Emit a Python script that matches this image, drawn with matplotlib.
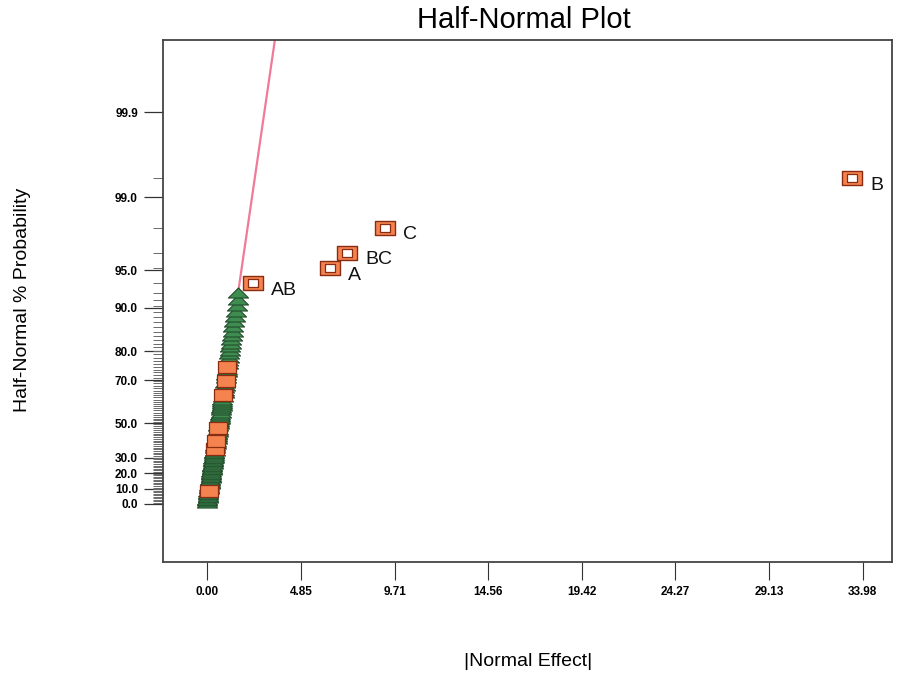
from statistics import NormalDist

import numpy as np
import matplotlib

matplotlib.use("Agg")
import matplotlib.pyplot as plt
from matplotlib.path import Path

plt.rcParams["font.family"] = ["Liberation Sans", "DejaVu Sans"]

# |effect| of the small (unlabelled) terms, sorted by size
cluster_effects = [
    0.00, 0.00, 0.00, 0.01, 0.02, 0.03, 0.04, 0.05, 0.06, 0.07,
    0.08, 0.10, 0.11, 0.12, 0.13, 0.14, 0.16, 0.17, 0.18, 0.19,
    0.21, 0.22, 0.23, 0.24, 0.26, 0.27, 0.28, 0.29, 0.31, 0.32,
    0.33, 0.35, 0.36, 0.37, 0.39, 0.40, 0.41, 0.43, 0.44, 0.45,
    0.47, 0.48, 0.50, 0.51, 0.53, 0.54, 0.56, 0.57, 0.59, 0.60,
    0.62, 0.63, 0.65, 0.67, 0.68, 0.70, 0.72, 0.73, 0.75, 0.76,
    0.78, 0.80, 0.82, 0.84, 0.86, 0.88, 0.90, 0.92, 0.94, 0.96,
    0.98, 1.00, 1.02, 1.04, 1.06, 1.08, 1.11, 1.13, 1.16, 1.18,
    1.21, 1.24, 1.27, 1.30, 1.34, 1.38, 1.42, 1.46, 1.51, 1.56, 1.61,
]
# ranks (1-based) of the small terms drawn as orange squares
cluster_square_ranks = [9, 35, 40, 47, 63, 69, 74]
n_terms = 98

# selected model terms
term_names = ["AB", "A", "BC", "C", "B"]
term_effects = [2.36, 6.35, 7.24, 9.21, 33.43]
term_probs = [93.6, 95.2, 96.5, 97.95, 99.38]

ytick_probs = [0.0, 10.0, 20.0, 30.0, 50.0, 70.0, 80.0, 90.0, 95.0, 99.0, 99.9]
xtick_step = 33.98 / 7
xtick_labels = ["0.00", "4.85", "9.71", "14.56", "19.42", "24.27", "29.13", "33.98"]

nd = NormalDist()


def hn(pcts):
    # half-normal probability scale: percent -> normal quantile
    return np.array([nd.inv_cdf(0.5 + float(p) / 200.0) for p in pcts])


ranks = np.arange(1, len(cluster_effects) + 1)
cluster_probs = (ranks - 0.5) / n_terms * 100
cluster_z = hn(cluster_probs)
cluster_x = np.array(cluster_effects)
is_square = np.isin(ranks, cluster_square_ranks)

term_z = hn(term_probs)

tri = Path([(-1, -0.45), (1, -0.45), (0, 0.55), (-1, -0.45)],
           [Path.MOVETO, Path.LINETO, Path.LINETO, Path.CLOSEPOLY])
rect = Path([(-1, -0.72), (1, -0.72), (1, 0.72), (-1, 0.72), (-1, -0.72)],
            [Path.MOVETO, Path.LINETO, Path.LINETO, Path.LINETO, Path.CLOSEPOLY])

fig = plt.figure(figsize=(9, 6.75), dpi=100)
ax = fig.add_axes([0.181, 0.167, 0.81, 0.774])

green = "#3f8c50"
orange = "#f5834f"
edge = "#8a2c12"

# reference line through the origin fitted to the error terms
gx = cluster_x[~is_square]
gz = cluster_z[~is_square]
slope = np.sum(gx * gz) / np.sum(gx * gx)
x0 = gx.max()
xl = np.array([x0, 5.0])
ax.plot(xl, slope * xl, color="#f07a98", lw=1.6, zorder=2)

ax.scatter(gx, gz, marker=tri, s=210, c=green, edgecolors="#224d2b",
           linewidths=0.8, zorder=3)
ax.scatter(cluster_x[is_square], cluster_z[is_square], marker=rect, s=150,
           c=orange, edgecolors=edge, linewidths=0.9, zorder=4)

ax.scatter(term_effects, term_z, marker=rect, s=190, c=orange,
           edgecolors=edge, linewidths=1.0, zorder=4)
ax.scatter(term_effects, term_z, marker=rect, s=55, c="white",
           edgecolors=edge, linewidths=0.9, zorder=5)
for name, x, z in zip(term_names, term_effects, term_z):
    ax.annotate(name, (x, z), xytext=(13, -5), textcoords="offset points",
                ha="left", va="center", fontsize=14, color="#111111")

ax.set_xlim(-2.31, 35.5)
ax.set_ylim(-0.494, 3.90)

ax.set_xticks(np.arange(8) * xtick_step)
ax.set_xticklabels(xtick_labels)
ax.tick_params(axis="x", length=13, width=0.8, pad=4, labelsize=8.5,
               color="#333333")
for lab in ax.get_xticklabels():
    lab.set_fontweight("bold")

ax.set_yticks(hn(ytick_probs))
ax.set_yticklabels([f"{p:.1f}" for p in ytick_probs])
ax.set_yticks(np.concatenate([cluster_z, term_z]), minor=True)
ax.tick_params(axis="y", which="major", length=14, width=0.9, pad=4,
               labelsize=8.5, color="#333333")
ax.tick_params(axis="y", which="minor", length=7, width=0.7, color="#6a6a6a")
for lab in ax.get_yticklabels():
    lab.set_fontweight("bold")

for sp in ax.spines.values():
    sp.set_color("#444444")
    sp.set_linewidth(1.3)

fig.text(0.582, 0.97, "Half-Normal Plot", ha="center", va="center",
         fontsize=21)
fig.text(0.587, 0.02, "|Normal Effect|", ha="center", va="center",
         fontsize=14)
fig.text(0.025, 0.555, "Half-Normal % Probability", ha="center",
         va="center", rotation=90, fontsize=14)

fig.savefig("out.png", dpi=100)
